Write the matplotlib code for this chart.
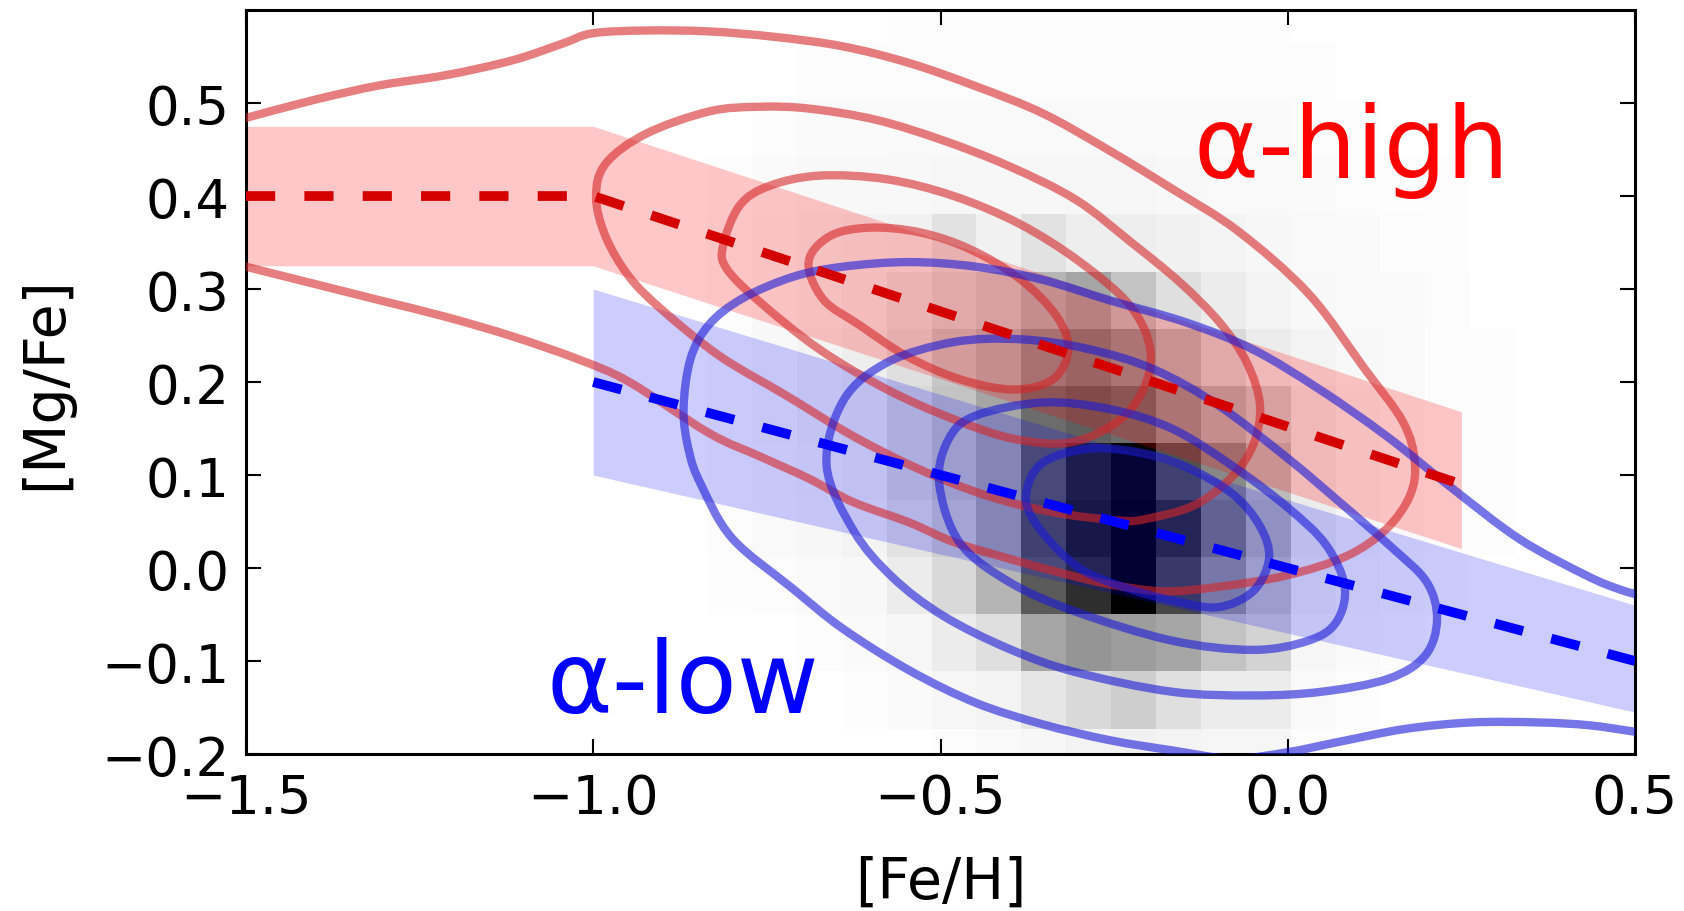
import numpy as np
import matplotlib
matplotlib.use("Agg")
import matplotlib.pyplot as plt
from matplotlib.path import Path
from matplotlib.patches import PathPatch

# 2D histogram of the sample (darkness, 0-100), rows bottom -> top
x_edges = np.linspace(-0.836, 0.392, 20)
y_edges = np.linspace(-0.234, 0.626, 15)
counts = np.array([
    [0, 0, 0, 0, 0, 3, 5, 8, 10, 12, 10, 8, 8, 3, 0, 0, 0, 0, 0],
    [0, 0, 0, 2, 4, 8, 10, 18, 25, 30, 22, 15, 15, 5, 3, 0, 0, 0, 0],
    [0, 0, 3, 4, 8, 15, 22, 45, 50, 48, 45, 35, 28, 8, 4, 3, 0, 0, 0],
    [2, 3, 5, 6, 15, 25, 40, 72, 85, 100, 78, 50, 35, 12, 6, 4, 2, 0, 0],
    [3, 5, 7, 10, 20, 30, 45, 75, 90, 100, 85, 60, 40, 15, 8, 5, 3, 2, 0],
    [3, 5, 8, 12, 25, 35, 45, 72, 88, 98, 75, 55, 38, 15, 8, 5, 3, 2, 0],
    [3, 6, 10, 14, 25, 35, 45, 65, 70, 65, 50, 40, 30, 15, 8, 5, 3, 2, 0],
    [3, 6, 10, 14, 22, 33, 40, 52, 58, 50, 38, 25, 15, 10, 6, 5, 3, 2, 0],
    [3, 5, 8, 12, 18, 25, 30, 40, 45, 35, 22, 15, 10, 6, 5, 4, 3, 0, 0],
    [3, 5, 8, 10, 12, 20, 12, 20, 14, 14, 12, 10, 7, 5, 4, 3, 2, 0, 0],
    [2, 4, 6, 6, 6, 8, 7, 7, 8, 8, 6, 5, 5, 4, 3, 2, 2, 0, 0],
    [0, 3, 4, 4, 5, 5, 5, 5, 5, 5, 4, 4, 4, 3, 3, 0, 0, 0, 0],
    [0, 0, 3, 3, 3, 3, 3, 3, 3, 3, 3, 3, 3, 3, 0, 0, 0, 0, 0],
    [0, 0, 0, 0, 2, 2, 2, 2, 2, 2, 2, 2, 2, 0, 0, 0, 0, 0, 0],
])

# mean relations and their spread
high_x = [-1.5, -1.0, 0.25]
high_y = [0.40, 0.40, 0.09]
high_lo = [0.325, 0.325, 0.021]
high_hi = [0.475, 0.475, 0.168]

low_x = [-1.0, 0.5]
low_y = [0.20, -0.10]
low_lo = [0.10, -0.155]
low_hi = [0.30, -0.04]

# density contours of the alpha-high population
red_1_x = [-1.52, -1.5, -1.404, -1.308, -1.212, -1.116, -1.044, -1.001, -0.924, -0.833, -0.737,
           -0.641, -0.545, -0.449, -0.353, -0.257, -0.167, -0.071, 0.030, 0.110, 0.166, 0.183,
           0.176, 0.142, 0.085, -0.002, -0.098, -0.180, -0.260, -0.338, -0.401, -0.481, -0.545,
           -0.626, -0.689, -0.760, -0.833, -0.948, -1.020, -1.116, -1.212, -1.308, -1.404, -1.5, -1.52]
red_1_y = [0.480, 0.484, 0.503, 0.519, 0.530, 0.546, 0.564, 0.575, 0.578, 0.577, 0.571,
           0.561, 0.543, 0.518, 0.489, 0.449, 0.408, 0.362, 0.295, 0.215, 0.157, 0.114,
           0.078, 0.042, 0.013, -0.008, -0.020, -0.025, -0.017, -0.003, 0.010, 0.028, 0.049,
           0.071, 0.096, 0.120, 0.145, 0.200, 0.224, 0.249, 0.270, 0.288, 0.306, 0.324, 0.328]

red_2_x = [-0.996, -0.982, -0.924, -0.833, -0.761, -0.689, -0.593, -0.497, -0.401, -0.305, -0.225,
           -0.155, -0.098, -0.059, -0.040, -0.050, -0.083, -0.136, -0.203, -0.242, -0.338, -0.434,
           -0.530, -0.626, -0.721, -0.818, -0.900, -0.948, -0.982]
red_2_y = [0.399, 0.435, 0.467, 0.491, 0.496, 0.494, 0.482, 0.460, 0.432, 0.396, 0.350,
           0.307, 0.264, 0.221, 0.175, 0.132, 0.096, 0.067, 0.053, 0.051, 0.060, 0.078,
           0.106, 0.142, 0.185, 0.228, 0.277, 0.313, 0.356]

red_3_x = [-0.813, -0.789, -0.746, -0.674, -0.577, -0.481, -0.386, -0.299, -0.227, -0.198, -0.208,
           -0.246, -0.314, -0.395, -0.481, -0.577, -0.674, -0.760, -0.808]
red_3_y = [0.347, 0.390, 0.411, 0.422, 0.418, 0.400, 0.370, 0.329, 0.282, 0.235, 0.192,
           0.157, 0.135, 0.139, 0.160, 0.192, 0.235, 0.286, 0.322]

red_4_x = [-0.690, -0.659, -0.602, -0.530, -0.458, -0.386, -0.333, -0.316, -0.338, -0.395, -0.472,
           -0.549, -0.616, -0.669]
red_4_y = [0.329, 0.357, 0.366, 0.361, 0.343, 0.311, 0.271, 0.235, 0.203, 0.192, 0.203,
           0.228, 0.261, 0.289]

# density contours of the alpha-low population
blue_1_x = [0.52, 0.478, 0.430, 0.334, 0.238, 0.142, 0.046, -0.050, -0.146, -0.257, -0.353,
            -0.449, -0.545, -0.641, -0.713, -0.785, -0.833, -0.860, -0.870, -0.862, -0.845, -0.800,
            -0.713, -0.641, -0.545, -0.449, -0.353, -0.257, -0.167, -0.080, 0.0, 0.073, 0.169,
            0.265, 0.361, 0.433, 0.5, 0.52]
blue_1_y = [-0.032, -0.023, -0.008, 0.031, 0.085, 0.142, 0.192, 0.235, 0.264, 0.288, 0.310,
            0.324, 0.329, 0.324, 0.313, 0.290, 0.262, 0.225, 0.170, 0.125, 0.090, 0.032,
            -0.022, -0.065, -0.110, -0.145, -0.168, -0.185, -0.196, -0.205, -0.198, -0.187, -0.173,
            -0.166, -0.166, -0.169, -0.176, -0.178]

blue_2_x = [-0.664, -0.640, -0.577, -0.481, -0.386, -0.290, -0.194, -0.100, 0.0, 0.073, 0.150,
            0.200, 0.215, 0.198, 0.145, 0.049, -0.050, -0.167, -0.305, -0.401, -0.497, -0.569, -0.625]
blue_2_y = [0.110, 0.180, 0.221, 0.243, 0.246, 0.236, 0.214, 0.175, 0.118, 0.072, 0.022,
            -0.015, -0.055, -0.094, -0.119, -0.133, -0.137, -0.133, -0.112, -0.087, -0.051, -0.010, 0.040]

blue_3_x = [-0.502, -0.488, -0.449, -0.353, -0.257, -0.167, -0.080, 0.0, 0.055, 0.082, 0.070,
            0.030, -0.050, -0.167, -0.305, -0.401, -0.473]
blue_3_y = [0.092, 0.139, 0.164, 0.178, 0.171, 0.150, 0.110, 0.065, 0.025, -0.020, -0.058,
            -0.078, -0.088, -0.078, -0.047, -0.015, 0.028]

blue_4_x = [-0.377, -0.355, -0.290, -0.220, -0.150, -0.080, -0.040, -0.027, -0.050, -0.100,
            -0.160, -0.230, -0.300, -0.355]
blue_4_y = [0.075, 0.112, 0.128, 0.125, 0.110, 0.080, 0.045, 0.010, -0.025, -0.042,
            -0.036, -0.022, 0.000, 0.040]


def smooth_path(xs, ys, closed=True):
    # Catmull-Rom curve through the traced points, as cubic Bezier segments
    p = np.column_stack([xs, ys])
    if closed:
        pts = np.vstack([p[-1], p, p[0], p[1]])
    else:
        pts = np.vstack([p[0], p, p[-1]])
    verts = [pts[1]]
    codes = [Path.MOVETO]
    for i in range(1, len(pts) - 2):
        p0, p1, p2, p3 = pts[i - 1], pts[i], pts[i + 1], pts[i + 2]
        verts += [p1 + (p2 - p0) / 6, p2 - (p3 - p1) / 6, p2]
        codes += [Path.CURVE4] * 3
    return Path(verts, codes)


fig = plt.figure(figsize=(16.84, 9.12), dpi=100)
ax = fig.add_axes([0.1461, 0.1721, 0.8248, 0.8158])

ax.pcolormesh(x_edges, y_edges, counts, cmap="Greys", vmin=0, vmax=100, zorder=1)

ax.fill_between(high_x, high_lo, high_hi, color="red", alpha=0.22, lw=0, zorder=2)
ax.fill_between(low_x, low_lo, low_hi, color="blue", alpha=0.2, lw=0, zorder=2)

red_c = (0.84, 0.15, 0.16)
blue_c = (0.1, 0.1, 0.85)
for xs, ys, cl in [(red_1_x, red_1_y, False), (red_2_x, red_2_y, True),
                   (red_3_x, red_3_y, True), (red_4_x, red_4_y, True)]:
    ax.add_patch(PathPatch(smooth_path(xs, ys, cl), fill=False, edgecolor=red_c,
                           lw=6, alpha=0.6, zorder=3))
for xs, ys, cl in [(blue_1_x, blue_1_y, False), (blue_2_x, blue_2_y, True),
                   (blue_3_x, blue_3_y, True), (blue_4_x, blue_4_y, True)]:
    ax.add_patch(PathPatch(smooth_path(xs, ys, cl), fill=False, edgecolor=blue_c,
                           lw=6, alpha=0.6, zorder=3))

ax.plot(high_x, high_y, color="#d40000", lw=7, dashes=(3, 3), zorder=4)
ax.plot(low_x, low_y, color="#0000ff", lw=7, dashes=(3, 3), zorder=4)

ax.text(-0.135, 0.421, "α-high", color="red", fontsize=71, zorder=5)
ax.text(-1.068, -0.155, "α-low", color="blue", fontsize=72, zorder=5)

ax.set_xlim(-1.5, 0.5)
ax.set_ylim(-0.2, 0.6)
ax.set_xticks([-1.5, -1.0, -0.5, 0.0, 0.5])
ax.set_yticks([-0.2, -0.1, 0.0, 0.1, 0.2, 0.3, 0.4, 0.5])
ax.tick_params(direction="in", length=11, width=1.5, top=True, right=True)
ax.tick_params(axis="x", labelsize=39, pad=13)
ax.tick_params(axis="y", labelsize=38, pad=12)
for s in ax.spines.values():
    s.set_linewidth(2.2)

ax.set_xlabel("[Fe/H]", fontsize=41, labelpad=22)
ax.set_ylabel("[Mg/Fe]", fontsize=41, labelpad=20)

fig.savefig("out.png", dpi=100)
